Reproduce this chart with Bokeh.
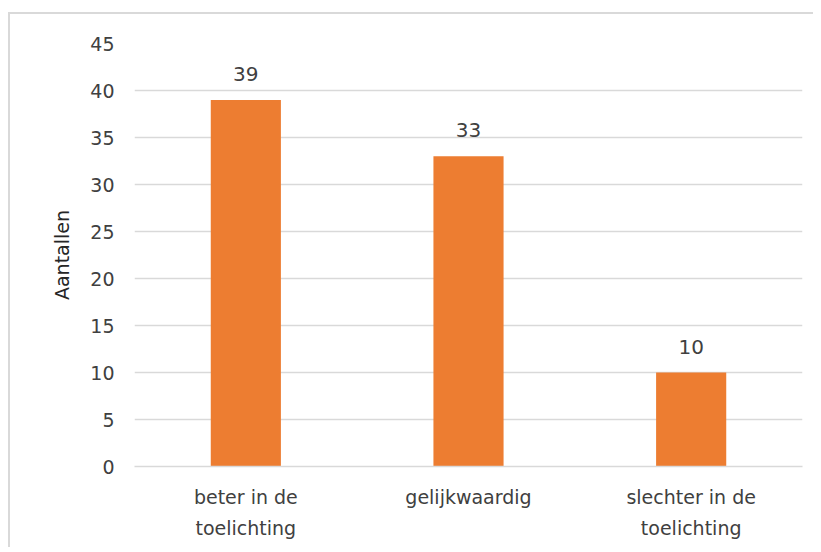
from bokeh.plotting import figure
from bokeh.models import ColumnDataSource, LabelSet, Range1d, FixedTicker
from bokeh.core.properties import value
from bokeh.embed import file_html
from bokeh.resources import INLINE

categories = ["beter in de\ntoelichting", "gelijkwaardig", "slechter in de\ntoelichting"]
values = [39, 33, 10]
y_ticks = [0, 5, 10, 15, 20, 25, 30, 35, 40, 45]
y_label = "Aantallen"

FONT = "DejaVu Sans"
BAR = "#ED7D31"
GRID = "#D9D9D9"
TXT = "#404040"

src = ColumnDataSource(dict(cat=categories, val=values, lab=[str(v) for v in values]))

p = figure(x_range=categories, width=805, height=535, output_backend="svg",
           toolbar_location=None, tools="",
           min_border_left=124, min_border_right=13, min_border_top=29, min_border_bottom=83)
p.y_range = Range1d(0, 45)
p.vbar(x="cat", top="val", width=0.315, source=src, color=BAR, line_color=None)

labels = LabelSet(x="cat", y="val", text="lab", source=src, text_align="center",
                  text_baseline="bottom", y_offset=19, text_font=value(FONT),
                  text_font_size="20px", text_color=TXT)
p.add_layout(labels)

p.outline_line_color = None
p.xgrid.grid_line_color = None
p.ygrid.grid_line_color = GRID
p.ygrid.grid_line_width = 1.5
p.yaxis.ticker = FixedTicker(ticks=y_ticks)
p.yaxis.axis_line_color = None
p.yaxis.major_tick_line_color = None
p.yaxis.minor_tick_line_color = None
p.yaxis.major_label_standoff = 14
p.yaxis.major_label_text_font = FONT
p.yaxis.major_label_text_font_size = "19px"
p.yaxis.major_label_text_color = TXT
p.yaxis.axis_label = y_label
p.yaxis.axis_label_text_font = FONT
p.yaxis.axis_label_text_font_size = "19px"
p.yaxis.axis_label_text_font_style = "normal"
p.yaxis.axis_label_text_color = "#262626"
p.yaxis.axis_label_standoff = 14

p.xaxis.axis_line_color = GRID
p.xaxis.axis_line_width = 1.5
p.xaxis.major_tick_line_color = None
p.xaxis.minor_tick_line_color = None
p.xaxis.major_label_standoff = 13
p.xaxis.major_label_text_font = FONT
p.xaxis.major_label_text_font_size = "19px"
p.xaxis.major_label_text_color = TXT
p.xaxis.major_label_text_line_height = 1.45
p.x_range.range_padding = 0
p.styles = {"border-left": "2px solid #D9D9D9", "border-top": "2px solid #D9D9D9",
            "margin-top": "12px", "margin-left": "8px"}

open("out.html", "w").write(file_html(p, INLINE))
